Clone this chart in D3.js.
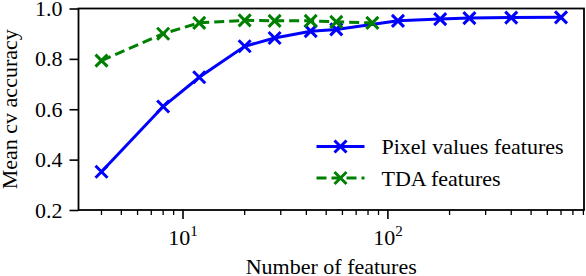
<!DOCTYPE html>
<html>
<head>
<meta charset="utf-8">
<script src="https://cdn.jsdelivr.net/npm/d3@7"></script>
<style>
  body { margin: 0; background: #fff; }
  svg text { font-family: "Liberation Serif", "DejaVu Serif", serif; fill: #000; }
</style>
</head>
<body>
<svg id="chart" width="586" height="276"></svg>
<script>
// values
var pixelFeatures = [4, 8, 12, 20, 28, 42, 56, 112, 180, 250, 400, 700];
var pixelAccuracy = [0.352, 0.611, 0.727, 0.850, 0.883, 0.910, 0.917, 0.951, 0.958, 0.962, 0.964, 0.965];
var tdaFeatures = [4, 8, 12, 20, 28, 42, 56, 84];
var tdaAccuracy = [0.793, 0.900, 0.943, 0.953, 0.951, 0.951, 0.947, 0.943];
var yTicks = [0.2, 0.4, 0.6, 0.8, 1.0];
var xMajor = [10, 100];
var xMajorExp = ["1", "2"];
var seriesNames = ["Pixel values features", "TDA features"];

var margin = {top: 8.5, right: 2, bottom: 66, left: 78.5},
    width = 586 - margin.left - margin.right,
    height = 276 - margin.top - margin.bottom;

// matplotlib-style 5% padding in log space
var lmin = Math.log10(d3.min(pixelFeatures)), lmax = Math.log10(d3.max(pixelFeatures));
var pad = (lmax - lmin) * 0.05;

var x = d3.scaleLog()
    .domain([Math.pow(10, lmin - pad), Math.pow(10, lmax + pad)])
    .range([0, width]);

var y = d3.scaleLinear()
    .domain([0.2, 1.0])
    .range([height, 0]);

var svg = d3.select("#chart").append("g")
    .attr("transform", "translate(" + margin.left + "," + margin.top + ")");

// minor ticks
var minor = [];
[1, 10, 100].forEach(function(d) {
  for (var k = 2; k <= 9; k++) {
    var v = d * k;
    if (v >= x.domain()[0] && v <= x.domain()[1]) minor.push(v);
  }
});

svg.selectAll("line.minor").data(minor).enter().append("line")
    .attr("class", "minor")
    .attr("x1", function(d) { return x(d); })
    .attr("x2", function(d) { return x(d); })
    .attr("y1", height).attr("y2", height + 5)
    .attr("stroke", "#000").attr("stroke-width", 1.3);

svg.selectAll("line.xmajor").data(xMajor).enter().append("line")
    .attr("class", "xmajor")
    .attr("x1", function(d) { return x(d); })
    .attr("x2", function(d) { return x(d); })
    .attr("y1", height).attr("y2", height + 9)
    .attr("stroke", "#000").attr("stroke-width", 1.6);

var xl = svg.selectAll("text.xlab").data(xMajor).enter().append("text")
    .attr("class", "xlab")
    .attr("x", function(d) { return x(d); })
    .attr("y", height + 35)
    .attr("text-anchor", "middle")
    .style("font-size", "22px");
xl.append("tspan").text("10");
xl.append("tspan")
    .attr("dy", -9)
    .style("font-size", "15px")
    .text(function(d, i) { return xMajorExp[i]; });

// y axis
var yAxis = d3.axisLeft(y).tickValues(yTicks).tickSize(9).tickPadding(7)
    .tickFormat(d3.format(".1f"));
var gy = svg.append("g").call(yAxis);
gy.select(".domain").remove();
gy.selectAll("line").attr("stroke-width", 1.6);
gy.selectAll("text").style("font-size", "22px").attr("font-family", null);

// frame
svg.append("rect")
    .attr("width", width).attr("height", height)
    .attr("fill", "none").attr("stroke", "#000").attr("stroke-width", 1.8);

// series
var line = d3.line()
    .x(function(d) { return x(d[0]); })
    .y(function(d) { return y(d[1]); });

function cross(g, cx, cy, color) {
  var s = 6;
  g.append("path")
      .attr("d", "M" + (cx - s) + "," + (cy - s) + "L" + (cx + s) + "," + (cy + s) +
                 "M" + (cx - s) + "," + (cy + s) + "L" + (cx + s) + "," + (cy - s))
      .attr("stroke", color).attr("stroke-width", 3).attr("fill", "none");
}

var pixelData = d3.zip(pixelFeatures, pixelAccuracy);
var tdaData = d3.zip(tdaFeatures, tdaAccuracy);

var gPix = svg.append("g");
gPix.append("path").datum(pixelData)
    .attr("d", line).attr("fill", "none")
    .attr("stroke", "#0000ff").attr("stroke-width", 3);
pixelData.forEach(function(d) { cross(gPix, x(d[0]), y(d[1]), "#0000ff"); });

var gTda = svg.append("g");
gTda.append("path").datum(tdaData)
    .attr("d", line).attr("fill", "none")
    .attr("stroke", "#008000").attr("stroke-width", 3)
    .attr("stroke-dasharray", "10,5");
tdaData.forEach(function(d) { cross(gTda, x(d[0]), y(d[1]), "#008000"); });

// legend
var colors = ["#0000ff", "#008000"];
var dashes = [null, "10,5"];
var leg = svg.append("g").attr("transform", "translate(238,138)");
seriesNames.forEach(function(name, i) {
  var ly = i * 31.5;
  leg.append("line")
      .attr("x1", 0).attr("x2", 48).attr("y1", ly).attr("y2", ly)
      .attr("stroke", colors[i]).attr("stroke-width", 3)
      .attr("stroke-dasharray", dashes[i]);
  cross(leg, 24, ly, colors[i]);
  leg.append("text")
      .attr("x", 65).attr("y", ly + 7.5)
      .style("font-size", "22px")
      .text(name);
});

// axis titles
svg.append("text")
    .attr("x", width / 2).attr("y", height + 64)
    .attr("text-anchor", "middle")
    .style("font-size", "22px")
    .text("Number of features");

svg.append("text")
    .attr("transform", "translate(-62," + (height / 2) + ") rotate(-90)")
    .attr("text-anchor", "middle")
    .style("font-size", "22px")
    .text("Mean cv accuracy");
</script>
</body>
</html>
